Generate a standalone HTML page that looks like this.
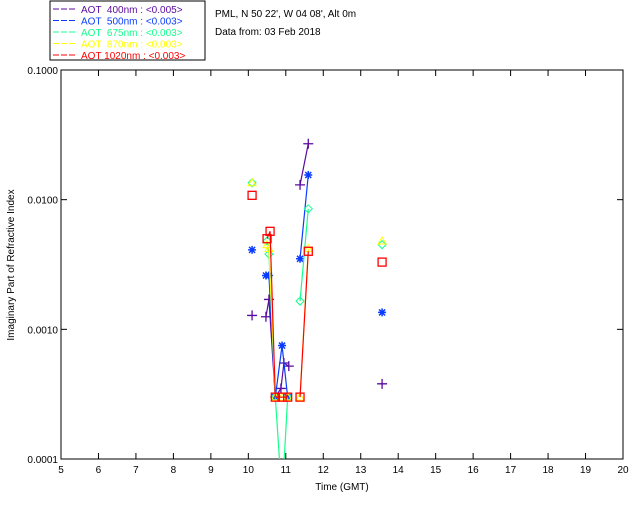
<!DOCTYPE html>
<html><head><meta charset="utf-8"><style>
body{margin:0;background:#fff;width:640px;height:512px;overflow:hidden;font-family:"Liberation Sans",sans-serif}
svg text{font-family:"Liberation Sans",sans-serif;font-size:10px;white-space:pre}
</style></head><body>
<svg id="chart" width="640" height="512">
<rect x="50" y="1" width="155" height="59" fill="#fff" stroke="#000"/>
<g id="legend"></g>
<text x="215" y="17" fill="#000">PML, N 50 22', W 04 08', Alt 0m</text>
<text x="215" y="35" fill="#000">Data from: 03 Feb 2018</text>
<g id="axes"></g>
<g id="series"></g>
<text x="342" y="490" text-anchor="middle" fill="#000">Time (GMT)</text>
<text transform="translate(14,265) rotate(-90)" text-anchor="middle" fill="#000">Imaginary Part of Refractive Index</text>
</svg>
<script>
const xTicks=[5,6,7,8,9,10,11,12,13,14,15,16,17,18,19,20];
const yTickVals=[0.1,0.01,0.001,0.0001];
const yTickLabels=["0.1000","0.0100","0.0010","0.0001"];
const seriesNames=["AOT  400nm : <0.005>","AOT  500nm : <0.003>","AOT  675nm : <0.003>","AOT  870nm : <0.003>","AOT 1020nm : <0.003>"];
const seriesColors=["#5a0aa0","#0a3cff","#14ff8c","#ffff00","#ff0000"];
const t400=[10.1,10.47,10.55,10.72,10.87,10.95,11.08,11.38,11.6,13.57];
const v400=[0.00128,0.00125,0.0017,0.0003,0.00035,0.00055,0.00052,0.013,0.027,0.00038];
const t500=[10.1,10.47,10.55,10.72,10.9,11.05,11.38,11.6,13.57];
const v500=[0.0041,0.0026,0.0026,0.0003,0.00075,0.0003,0.0035,0.0155,0.00135];
const t675=[10.1,10.5,10.55,10.72,10.9,11.05,11.38,11.6,13.57];
const v675=[0.0135,0.0048,0.0038,0.0003,0.00005,0.0003,0.00165,0.0085,0.0045];
const t870=[10.1,10.5,10.55,10.72,10.9,11.05,11.38,11.6,13.57];
const v870=[0.0135,0.0045,0.0042,0.0003,0.0003,0.0003,0.0003,0.0042,0.0048];
const t1020=[10.1,10.5,10.58,10.72,10.9,11.05,11.38,11.6,13.57];
const v1020=[0.0108,0.005,0.0057,0.0003,0.0003,0.0003,0.0003,0.004,0.0033];
const L=61,R=623,T=70,B=459;
const xs=v=>L+(v-5)/15*(R-L);
const ys=v=>T+(-1-Math.log10(v))/3*(B-T);
const NS="http://www.w3.org/2000/svg";
function mk(tag,attrs,parent){const e=document.createElementNS(NS,tag);for(const k in attrs)e.setAttribute(k,attrs[k]);parent.appendChild(e);return e;}
const axes=document.getElementById('axes');
const frame=mk('rect',{x:L,y:T,width:R-L,height:B-T,fill:'none',stroke:'#000'},axes);


xTicks.forEach(v=>{
 const x=xs(v);
 mk('line',{x1:x,y1:B,x2:x,y2:B-6,stroke:'#000'},axes);
 mk('line',{x1:x,y1:T,x2:x,y2:T+6,stroke:'#000'},axes);
 const t=mk('text',{x:x,y:B+14,'text-anchor':'middle',fill:'#000'},axes);
 t.textContent=v;
 
 
});
yTickVals.forEach((v,i)=>{
 const y=ys(v);
 mk('line',{x1:L,y1:y,x2:L+6,y2:y,stroke:'#000'},axes);
 mk('line',{x1:R,y1:y,x2:R-6,y2:y,stroke:'#000'},axes);
 const t=mk('text',{x:L-3,y:y+4,'text-anchor':'end',fill:'#000'},axes);
 t.textContent=yTickLabels[i];
 
 
});
const leg=document.getElementById('legend');
seriesNames.forEach((n,i)=>{
 const y=9+i*11.5;
 mk('line',{x1:53,y1:y,x2:77,y2:y,stroke:seriesColors[i],'stroke-dasharray':'6,2'},leg);
 const t=mk('text',{x:81,y:y+4,fill:seriesColors[i]},leg);
 t.textContent=n;
 
 
});
const defs=mk('defs',{},document.getElementById('chart'));
const cp=mk('clipPath',{id:'clip'},defs);
mk('rect',{x:L,y:T,width:R-L,height:B-T},cp);
const sg=document.getElementById('series');
const all=[[t400,v400,'plus'],[t500,v500,'star'],[t675,v675,'diamond'],[t870,v870,'tri'],[t1020,v1020,'square']];
all.forEach(([ts,vs,m],i)=>{
 const g=mk('g',{'clip-path':'url(#clip)'},sg);
 
 
 const c=seriesColors[i];
 for(let k=1;k<ts.length;k++){
  if(ts[k]-ts[k-1]<0.3){
   const ln=mk('line',{x1:xs(ts[k-1]),y1:ys(vs[k-1]),x2:xs(ts[k]),y2:ys(vs[k]),stroke:c,'stroke-width':1.2},g);
   
   
  }
 }
 ts.forEach((t,k)=>{
  const x=xs(t),y=ys(vs[k]);let e;
  if(m==='plus')e=mk('path',{d:`M${x-5},${y}h10M${x},${y-5}v10`,stroke:c,'stroke-width':1.3,fill:'none'},g);
  else if(m==='star')e=mk('path',{d:`M${x-4},${y}h8M${x},${y-4}v8M${x-3},${y-3}l6,6M${x-3},${y+3}l6,-6`,stroke:c,'stroke-width':1.5,fill:'none'},g);
  else if(m==='diamond')e=mk('path',{d:`M${x},${y-4}l4,4l-4,4l-4,-4z`,stroke:c,fill:'none'},g);
  else if(m==='tri')e=mk('path',{d:`M${x},${y-4}l4,7h-8z`,stroke:c,fill:'none'},g);
  else e=mk('rect',{x:x-4,y:y-4,width:8,height:8,stroke:c,fill:'none','stroke-width':1.3},g);
  
  
 });
});
</script>
</body></html>
